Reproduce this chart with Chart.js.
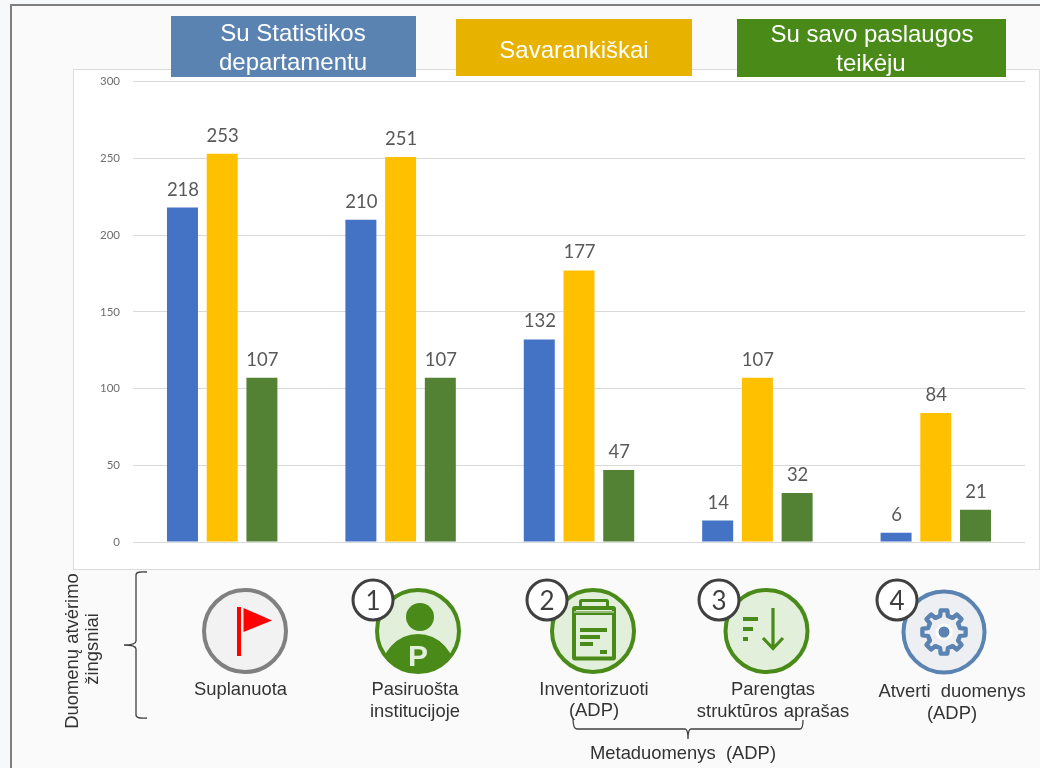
<!DOCTYPE html>
<html>
<head>
<meta charset="utf-8">
<style>
html, body { margin: 0; padding: 0; background: #f6f8fa; overflow: hidden; }
#page { position: absolute; left: 10px; top: 4px; width: 1030px; height: 764px; background: #fafafa;
  border-left: 2px solid #7f7f7f; border-top: 2px solid #7f7f7f; box-sizing: border-box; }
#card { position: absolute; left: 73px; top: 69px; width: 967px; height: 501px; background: #fff;
  border: 1px solid #dcdcdc; box-sizing: border-box; }
#chartWrap { position: absolute; left: 74px; top: 70px; width: 965px; height: 498px; }
svg { position: absolute; left: 0; top: 0; }
svg text { font-family: "Liberation Sans", Arial, sans-serif; white-space: pre; }
.head { font-size: 24px; fill: #fff; text-anchor: middle; }
.step { font-size: 18.4px; fill: #333; text-anchor: middle; }
svg text.num { font-family: Lato, sans-serif; font-size: 26px; fill: #404040; text-anchor: middle; }
.brace { fill: none; stroke: #404040; stroke-width: 1.3; }
</style>
</head>
<body>
<div id="page"></div>
<div id="card"></div>
<div id="chartWrap"><canvas id="stepsChart" width="965" height="498"></canvas></div>

<svg width="1040" height="768" viewBox="0 0 1040 768">
  <!-- legend boxes above the chart -->
  <rect x="171" y="16" width="245" height="61" fill="#5a83b2"/>
  <text class="head" x="293" y="41">Su Statistikos</text>
  <text class="head" x="293" y="70">departamentu</text>
  <rect x="456" y="19" width="236" height="57" fill="#e8b200"/>
  <text class="head" x="574" y="58">Savarankiškai</text>
  <rect x="737" y="19" width="269" height="58" fill="#4a8a19"/>
  <text class="head" x="872" y="42">Su savo paslaugos</text>
  <text class="head" x="871" y="71">teikėju</text>

  <!-- side caption and brace -->
  <text class="step" transform="translate(78,651) rotate(-90)">Duomenų atvėrimo</text>
  <text class="step" transform="translate(98,649) rotate(-90)">žingsniai</text>
  <path class="brace" d="M147 572 Q136 571 136 575 V641 Q136 645 124 645 Q136 645 136 649 V715 Q136 719 147 718"/>

  <!-- planned -->
  <circle cx="245" cy="631" r="41" fill="#f2f2f2" stroke="#808080" stroke-width="4"/>
  <rect x="237" y="607" width="4" height="49" fill="#ff0000"/>
  <polygon points="243.5,608 272,620.5 243.5,632" fill="#ff0000"/>
  <text class="step" x="240.5" y="695">Suplanuota</text>

  <!-- step 1 -->
  <clipPath id="c1"><circle cx="418" cy="631" r="41"/></clipPath>
  <circle cx="418" cy="631" r="41" fill="#e2efda"/>
  <circle cx="420" cy="617" r="14" fill="#4a8a19"/>
  <ellipse cx="418" cy="675" rx="38" ry="41" fill="#4a8a19" clip-path="url(#c1)"/>
  <circle cx="418" cy="631" r="41" fill="none" stroke="#4a8a19" stroke-width="4"/>
  <text x="418" y="666" text-anchor="middle" font-size="30" font-weight="bold" fill="#e2efda">P</text>
  <text class="step" x="415" y="695">Pasiruošta</text>
  <text class="step" x="415" y="717">institucijoje</text>
  <circle cx="373" cy="600" r="20" fill="#fff" stroke="#404040" stroke-width="3"/>
  <text class="num" x="373" y="610">1</text>

  <!-- step 2 -->
  <circle cx="593" cy="631" r="41" fill="#e2efda" stroke="#4a8a19" stroke-width="4"/>
  <rect x="574" y="608" width="40" height="50.5" rx="1" fill="none" stroke="#4a8a19" stroke-width="4"/>
  <rect x="580.5" y="600.5" width="27" height="7" rx="1" fill="none" stroke="#4a8a19" stroke-width="3"/>
  <rect x="572" y="611" width="44" height="4" fill="#4a8a19"/>
  <line x1="574" x2="614" y1="612" y2="612" stroke="#e2efda" stroke-width="1"/>
  <rect x="580" y="628" width="27" height="4" fill="#4a8a19"/>
  <rect x="580" y="635" width="20" height="4" fill="#4a8a19"/>
  <rect x="580" y="642" width="13" height="4" fill="#4a8a19"/>
  <rect x="600" y="650" width="7" height="4" fill="#4a8a19"/>
  <text class="step" x="594" y="695">Inventorizuoti</text>
  <text class="step" x="594" y="716">(ADP)</text>
  <circle cx="547" cy="600" r="20" fill="#fff" stroke="#404040" stroke-width="3"/>
  <text class="num" x="547" y="610">2</text>

  <!-- step 3 -->
  <circle cx="766.5" cy="631" r="41" fill="#e2efda" stroke="#4a8a19" stroke-width="4"/>
  <rect x="743" y="617" width="15" height="4" fill="#4a8a19"/>
  <rect x="743" y="627" width="10" height="4" fill="#4a8a19"/>
  <rect x="743" y="637" width="5" height="4" fill="#4a8a19"/>
  <path d="M773 608 V648 M763 638 L773 648.5 L783 638" fill="none" stroke="#4a8a19" stroke-width="3.2"/>
  <text class="step" x="773" y="695">Parengtas</text>
  <text class="step" x="773" y="716.5" style="word-spacing:1px">struktūros aprašas</text>
  <circle cx="719" cy="600" r="20" fill="#fff" stroke="#404040" stroke-width="3"/>
  <text class="num" x="719" y="610">3</text>

  <!-- step 4 -->
  <circle cx="944" cy="632" r="40.5" fill="#edeff3" stroke="#5a83b2" stroke-width="4"/>
  <path id="gear" fill="none" stroke="#5a83b2" stroke-width="4.4" stroke-linejoin="round"/>
  <circle cx="944" cy="632" r="8.5" fill="#fff"/>
  <circle cx="944" cy="632" r="5.5" fill="#5a83b2"/>
  <text class="step" x="952" y="697">Atverti  duomenys</text>
  <text class="step" x="952" y="719">(ADP)</text>
  <circle cx="897" cy="600" r="20" fill="#fff" stroke="#404040" stroke-width="3"/>
  <text class="num" x="897" y="610">4</text>

  <!-- metadata brace -->
  <path class="brace" d="M573 718 Q573 729 577 729 H685 Q688 729 688 739 Q688 729 691 729 H800 Q803 729 803 720"/>
  <text class="step" x="683" y="759">Metaduomenys  (ADP)</text>
</svg>

<script src="https://cdn.jsdelivr.net/npm/chart.js@4/dist/chart.umd.min.js"></script>
<script>
const categories = ['Suplanuota', 'Pasiruošta institucijoje', 'Inventorizuoti (ADP)', 'Parengtas struktūros aprašas', 'Atverti duomenys (ADP)'];
const statistikosValues = [218, 210, 132, 14, 6];
const savarankiskaiValues = [253, 251, 177, 107, 84];
const teikejuValues = [107, 107, 47, 32, 21];
const yTicks = [0, 50, 100, 150, 200, 250, 300];

// gear outline for the last icon
const gearPts = [];
for (let i = 0; i < 8; i++) {
    const a = i * Math.PI / 4 - Math.PI / 2;
    [[-0.24, 16.5], [-0.15, 21.8], [0.15, 21.8], [0.24, 16.5]].forEach(p => {
        gearPts.push((944 + p[1] * Math.cos(a + p[0])).toFixed(1) + ' ' + (632 + p[1] * Math.sin(a + p[0])).toFixed(1));
    });
}
document.getElementById('gear').setAttribute('d', 'M' + gearPts.join(' L') + ' Z');

const barLabels = {
    id: 'barLabels',
    afterDatasetsDraw(chart) {
        const ctx = chart.ctx;
        ctx.save();
        ctx.font = '18.5px Lato, sans-serif';
        ctx.fillStyle = '#595959';
        ctx.textAlign = 'center';
        ctx.textBaseline = 'alphabetic';
        chart.data.datasets.forEach((ds, i) => {
            chart.getDatasetMeta(i).data.forEach((bar, j) => {
                ctx.fillText(ds.data[j], bar.x + 0.5, bar.y - 12);
            });
        });
        ctx.restore();
    }
};

new Chart(document.getElementById('stepsChart').getContext('2d'), {
    type: 'bar',
    data: {
        labels: categories,
        datasets: [
            { label: 'Su Statistikos departamentu', data: statistikosValues, backgroundColor: '#4472c4' },
            { label: 'Savarankiškai', data: savarankiskaiValues, backgroundColor: '#ffc000' },
            { label: 'Su savo paslaugos teikėju', data: teikejuValues, backgroundColor: '#548235' }
        ]
    },
    options: {
        responsive: false,
        animation: false,
        layout: { padding: { top: 11.7, right: 14, bottom: 26, left: 0 } },
        plugins: { legend: { display: false }, tooltip: { enabled: false } },
        datasets: { bar: { categoryPercentage: 0.668, barPercentage: 0.78 } },
        scales: {
            x: { display: false },
            y: {
                min: 0,
                max: 300,
                afterFit(scale) {
                    scale.width = 59;
                    scale.paddingTop = 0;
                    scale.paddingBottom = 0;
                },
                afterBuildTicks(scale) { scale.ticks = yTicks.map(v => ({ value: v })); },
                border: { display: false },
                grid: { color: '#d9d9d9', lineWidth: 1, drawTicks: false },
                ticks: { padding: 13, color: '#6e6e6e', font: { family: 'Lato, sans-serif', size: 11.5 } }
            }
        }
    },
    plugins: [barLabels]
});
</script>
</body>
</html>
